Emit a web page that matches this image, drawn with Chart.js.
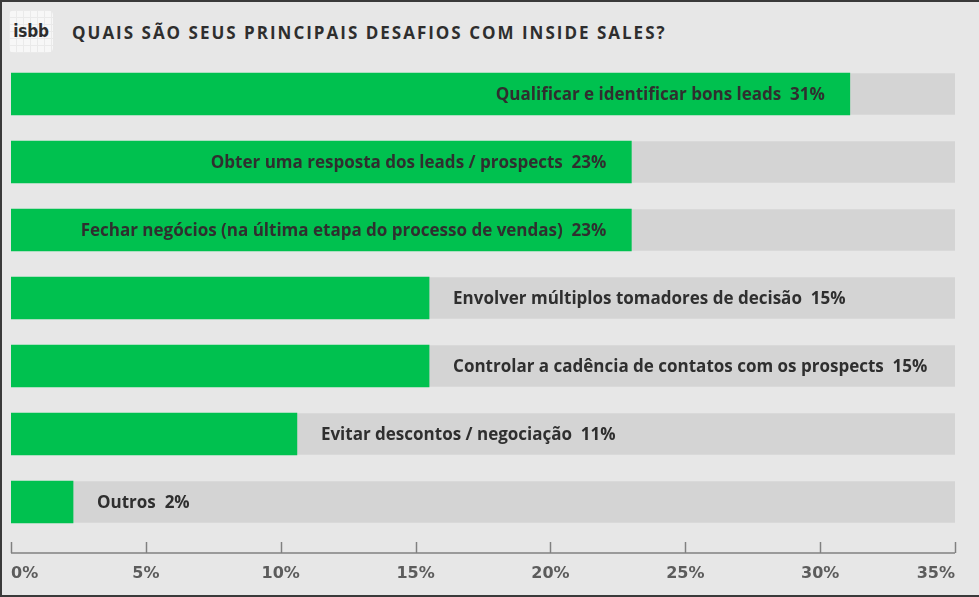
<!DOCTYPE html>
<html>
<head>
<meta charset="utf-8">
<script src="https://cdn.jsdelivr.net/npm/chart.js@4"></script>
<style>
  html,body{margin:0;padding:0;background:#e7e7e7;}
  #wrap{position:relative;width:979px;height:597px;box-sizing:border-box;border:2px solid #3a3a3a;border-right:none;background:#e7e7e7;overflow:hidden;}
  #logo{position:absolute;left:7px;top:8px;width:44px;height:43px;border-radius:5px;background:#f7f7f7;
    background-image:linear-gradient(#eaeaea 1px,transparent 1px),linear-gradient(90deg,#eaeaea 1px,transparent 1px);background-size:7px 7px;
    font:bold 17px "Liberation Sans Narrow","DejaVu Sans Condensed",sans-serif;color:#2d2d2d;text-align:center;line-height:43px;letter-spacing:-0.2px;}
  #title{position:absolute;left:70px;top:19px;font:bold 17px "Open Sans",sans-serif;letter-spacing:2px;color:#2e2e2e;white-space:nowrap;}
  canvas{position:absolute;left:-2px;top:-2px;}
</style>
</head>
<body>
<div id="wrap">
  <div id="logo">isbb</div>
  <div id="title">QUAIS SÃO SEUS PRINCIPAIS DESAFIOS COM INSIDE SALES?</div>
  <canvas id="c" width="979" height="597"></canvas>
</div>
<script>
const categories = [
  "Qualificar e identificar bons leads",
  "Obter uma resposta dos leads / prospects",
  "Fechar negócios (na última etapa do processo de vendas)",
  "Envolver múltiplos tomadores de decisão",
  "Controlar a cadência de contatos com os prospects",
  "Evitar descontos / negociação",
  "Outros"
];
const values = [31.1, 23.0, 23.0, 15.5, 15.5, 10.6, 2.3];
const valueLabels = ["31%", "23%", "23%", "15%", "15%", "11%", "2%"];
const trackValues = [35, 35, 35, 35, 35, 35, 35];
const xTicks = [0, 5, 10, 15, 20, 25, 30, 35];

const GREEN = '#00c14f';
const TRACK = '#d4d4d4';
const TEXT = '#2f2f2f';
const LABEL_FONT = 'bold 17px "Open Sans", sans-serif';

const axisPlugin = {
  id: 'axisPlugin',
  afterDraw(chart) {
    const ctx = chart.ctx;
    const xs = chart.scales.x;
    const y = chart.chartArea.bottom + 17;
    ctx.save();
    ctx.strokeStyle = '#808080';
    ctx.lineWidth = 1.5;
    ctx.beginPath();
    ctx.moveTo(xs.getPixelForValue(0), y);
    ctx.lineTo(xs.getPixelForValue(35), y);
    ctx.stroke();
    xTicks.forEach(v => {
      const px = Math.round(xs.getPixelForValue(v)) + 0.5;
      ctx.beginPath();
      ctx.moveTo(px, y - 11);
      ctx.lineTo(px, y);
      ctx.stroke();
    });
    ctx.restore();
  }
};

const labelPlugin = {
  id: 'labelPlugin',
  afterDatasetsDraw(chart) {
    const ctx = chart.ctx;
    const meta = chart.getDatasetMeta(1);
    const xs = chart.scales.x;
    ctx.save();
    ctx.font = LABEL_FONT;
    ctx.fillStyle = TEXT;
    ctx.textBaseline = 'middle';
    meta.data.forEach((bar, i) => {
      const text = categories[i] + '  ' + valueLabels[i];
      const w = ctx.measureText(text).width;
      const x0 = xs.getPixelForValue(0);
      const barW = bar.x - x0;
      if (w + 60 < barW) {
        ctx.textAlign = 'right';
        ctx.fillText(text, bar.x - 25, bar.y + 1);
      } else {
        ctx.textAlign = 'left';
        ctx.fillText(text, bar.x + 24, bar.y + 1);
      }
    });
    ctx.restore();
  }
};

new Chart(document.getElementById('c'), {
  type: 'bar',
  data: {
    labels: categories,
    datasets: [
      { label: 'Total', data: trackValues, backgroundColor: TRACK, grouped: false, order: 2, barThickness: 41 },
      { label: 'Percentual', data: values, backgroundColor: GREEN, grouped: false, order: 1, barThickness: 42 }
    ]
  },
  options: {
    indexAxis: 'y',
    responsive: false,
    animation: false,
    layout: { padding: { left: 11, right: 24, top: 60, bottom: 13 } },
    plugins: { legend: { display: false }, tooltip: { enabled: false } },
    scales: {
      y: { display: false },
      x: {
        min: 0, max: 35,
        afterBuildTicks(scale) { scale.ticks = xTicks.map(v => ({ value: v })); },
        afterFit(scale) { scale.height = 48; scale.paddingLeft = 0; scale.paddingRight = 0; },
        grid: { display: false, drawTicks: true, tickLength: 8 },
        border: { display: false },
        ticks: {
          align: 'inner',
          padding: 20,
          color: '#5c5c5c',
          font: { family: 'DejaVu Sans', weight: 'bold', size: 16 },
          callback: v => v + '%'
        }
      }
    }
  },
  plugins: [axisPlugin, labelPlugin]
});
</script>
</body>
</html>
